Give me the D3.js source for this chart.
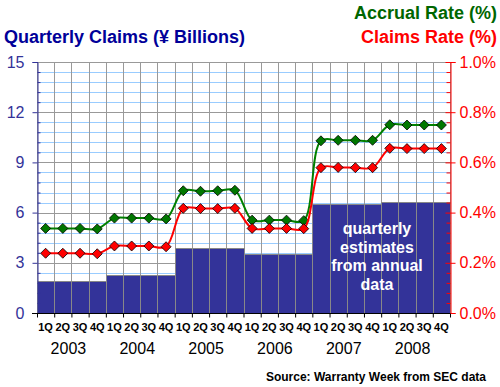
<!DOCTYPE html>
<html>
<head>
  <meta charset="utf-8">
  <script src="https://d3js.org/d3.v7.min.js"></script>
  <style>
  body { margin: 0; background: #fff; }
  text { font-family: "Liberation Sans", Arial, sans-serif; }
  </style>
</head>
<body>
<div id="chart"></div>
<script>
  // data
  var years = ["2003", "2004", "2005", "2006", "2007", "2008"];
  var quarterNames = ["1Q", "2Q", "3Q", "4Q"];
  var claims = [1.9, 1.9, 1.9, 1.9,
                2.3, 2.3, 2.3, 2.3,
                3.87, 3.87, 3.87, 3.87,
                3.53, 3.53, 3.53, 3.53,
                6.5, 6.5, 6.5, 6.5,
                6.65, 6.65, 6.65, 6.65];
  var accrualRate = [0.337, 0.337, 0.337, 0.335,
                     0.378, 0.378, 0.378, 0.375,
                     0.487, 0.485, 0.487, 0.489,
                     0.370, 0.370, 0.370, 0.368,
                     0.686, 0.688, 0.688, 0.688,
                     0.750, 0.749, 0.749, 0.749];
  var claimsRate = [0.238, 0.238, 0.238, 0.236,
                    0.267, 0.267, 0.267, 0.264,
                    0.417, 0.416, 0.416, 0.417,
                    0.337, 0.337, 0.337, 0.336,
                    0.579, 0.580, 0.579, 0.579,
                    0.656, 0.655, 0.655, 0.655];
  var leftTicks = [0, 3, 6, 9, 12, 15];
  var rightTicks = [0, 0.2, 0.4, 0.6, 0.8, 1.0];

  var W = 500, H = 387;
  var pLeft = 37, pRight = 450, pTop = 62, pBottom = 313;

  var svg = d3.select("#chart").append("svg")
    .attr("width", W).attr("height", H);

  var idx = d3.range(claims.length);
  var x = d3.scaleBand().domain(idx).range([pLeft, pRight]).padding(0);
  var xq = d3.scaleLinear().domain([0, claims.length]).range([pLeft, pRight]);
  var yL = d3.scaleLinear().domain([0, 15]).range([pBottom, pTop]);
  var yR = d3.scaleLinear().domain([0, 1.0]).range([pBottom, pTop]);

  // grid
  var minor = d3.range(0, 15.01, 0.6).filter(function(v) { return Math.abs(v / 3 - Math.round(v / 3)) > 0.01; });
  svg.append("g").selectAll("line").data(minor).enter().append("line")
    .attr("x1", pLeft).attr("x2", pRight)
    .attr("y1", function(d) { return Math.round(yL(d)) + 0.5; })
    .attr("y2", function(d) { return Math.round(yL(d)) + 0.5; })
    .attr("stroke", "#99ccff");
  svg.append("g").selectAll("line").data(d3.range(0, 25)).enter().append("line")
    .attr("x1", function(d) { return Math.round(xq(d)) + 0.5; })
    .attr("x2", function(d) { return Math.round(xq(d)) + 0.5; })
    .attr("y1", pTop).attr("y2", pBottom)
    .attr("stroke", "#999");
  svg.append("g").selectAll("line").data(leftTicks.slice(1)).enter().append("line")
    .attr("x1", pLeft).attr("x2", pRight)
    .attr("y1", function(d) { return Math.round(yL(d)) + 0.5; })
    .attr("y2", function(d) { return Math.round(yL(d)) + 0.5; })
    .attr("stroke", "#999");

  // bars
  svg.append("g").selectAll("rect").data(claims).enter().append("rect")
    .attr("x", function(d, i) { return Math.round(x(i)) + 0.5; })
    .attr("width", function(d, i) { return Math.round(x(i) + x.bandwidth()) - Math.round(x(i)); })
    .attr("y", function(d) { return Math.round(yL(d)) + 0.5; })
    .attr("height", function(d) { return pBottom - Math.round(yL(d)); })
    .attr("fill", "#333399")
    .attr("stroke", "#888");

  // annotation
  var note = ["quarterly", "estimates", "from annual", "data"];
  svg.append("g").selectAll("text").data(note).enter().append("text")
    .attr("x", 377)
    .attr("y", function(d, i) { return 234 + i * 18.7; })
    .attr("text-anchor", "middle")
    .attr("fill", "#fff")
    .style("font-size", "16px")
    .style("font-weight", "bold")
    .text(function(d) { return d; });

  // lines
  function drawSeries(values, lineColor, markColor) {
    var line = d3.line()
      .x(function(d, i) { return x(i) + x.bandwidth() / 2; })
      .y(function(d) { return yR(d); })
      .curve(d3.curveCatmullRom.alpha(0.5));
    svg.append("path").datum(values)
      .attr("d", line)
      .attr("fill", "none")
      .attr("stroke", lineColor)
      .attr("stroke-width", 2);
    svg.append("g").selectAll("path").data(values).enter().append("path")
      .attr("transform", function(d, i) { return "translate(" + (x(i) + x.bandwidth() / 2) + "," + yR(d) + ")"; })
      .attr("d", "M0,-5L5,0L0,5L-5,0Z")
      .attr("fill", markColor)
      .attr("stroke", "#000")
      .attr("stroke-width", 0.8);
  }
  drawSeries(accrualRate, "#008000", "#007700");
  drawSeries(claimsRate, "#ff0000", "#ff0000");

  // left axis
  var axL = svg.append("g").attr("transform", "translate(" + (pLeft + 0.5) + ",0)")
    .call(d3.axisLeft(yL).tickValues(leftTicks).tickSize(5).tickPadding(8));
  axL.selectAll("path, line").attr("stroke", "#333399");
  axL.selectAll("text").attr("fill", "#333399").style("font-size", "16px")
    .style("font-family", "Liberation Sans, Arial, sans-serif");
  svg.append("g").attr("transform", "translate(" + (pLeft + 0.5) + ",0)")
    .call(d3.axisRight(yL).tickValues(minor).tickSize(3).tickFormat(""))
    .call(function(g) { g.select(".domain").remove(); g.selectAll("line").attr("stroke", "#333399"); });

  // right axis
  var axR = svg.append("g").attr("transform", "translate(" + (pRight + 0.5) + ",0)")
    .call(d3.axisRight(yR).tickValues(rightTicks).tickSize(5).tickPadding(4)
      .tickFormat(function(d) { return d3.format(".1f")(d) + "%"; }));
  axR.selectAll("path, line").attr("stroke", "#ff0000");
  axR.selectAll("line").attr("x1", -5);
  axR.selectAll("text").attr("fill", "#ff0000").style("font-size", "16px")
    .style("font-family", "Liberation Sans, Arial, sans-serif");
  var rMinor = d3.range(0, 1.001, 0.04).filter(function(v) { return Math.abs(v / 0.2 - Math.round(v / 0.2)) > 0.01; });
  svg.append("g").attr("transform", "translate(" + (pRight + 0.5) + ",0)")
    .call(d3.axisLeft(yR).tickValues(rMinor).tickSize(4).tickFormat(""))
    .call(function(g) { g.select(".domain").remove(); g.selectAll("line").attr("stroke", "#ff0000"); });

  // bottom axis
  var axB = svg.append("g").attr("transform", "translate(0," + (pBottom + 0.5) + ")")
    .call(d3.axisBottom(xq).tickValues(d3.range(0, 25)).tickSize(4).tickSizeOuter(0).tickFormat(""));
  axB.selectAll("path, line").attr("stroke", "#000");
  axB.select(".domain").attr("d", "M" + (pLeft - 5) + ",0H" + pRight);

  svg.append("g").selectAll("text").data(idx).enter().append("text")
    .attr("x", function(d) { return x(d) + x.bandwidth() / 2; })
    .attr("y", 331)
    .attr("text-anchor", "middle")
    .style("font-size", "11px")
    .style("font-weight", "bold")
    .text(function(d) { return quarterNames[d % 4]; });

  svg.append("g").selectAll("text").data(years).enter().append("text")
    .attr("x", function(d, i) { return xq(i * 4 + 2) - 3; })
    .attr("y", 354)
    .attr("text-anchor", "middle")
    .style("font-size", "16px")
    .text(function(d) { return d; });

  // titles
  svg.append("text").attr("x", 4).attr("y", 43)
    .attr("fill", "#000099")
    .style("font-size", "18px").style("font-weight", "bold")
    .text("Quarterly Claims (\u00a5 Billions)");
  svg.append("text").attr("x", 497).attr("y", 19)
    .attr("text-anchor", "end")
    .attr("fill", "#006600")
    .style("font-size", "18px").style("font-weight", "bold")
    .text("Accrual Rate (%)");
  svg.append("text").attr("x", 497).attr("y", 43)
    .attr("text-anchor", "end")
    .attr("fill", "#ff0000")
    .style("font-size", "18px").style("font-weight", "bold")
    .text("Claims Rate (%)");
  svg.append("text").attr("x", 486).attr("y", 381)
    .attr("text-anchor", "end")
    .style("font-size", "12px").style("font-weight", "bold")
    .text("Source: Warranty Week from SEC data");
</script>
</body>
</html>
